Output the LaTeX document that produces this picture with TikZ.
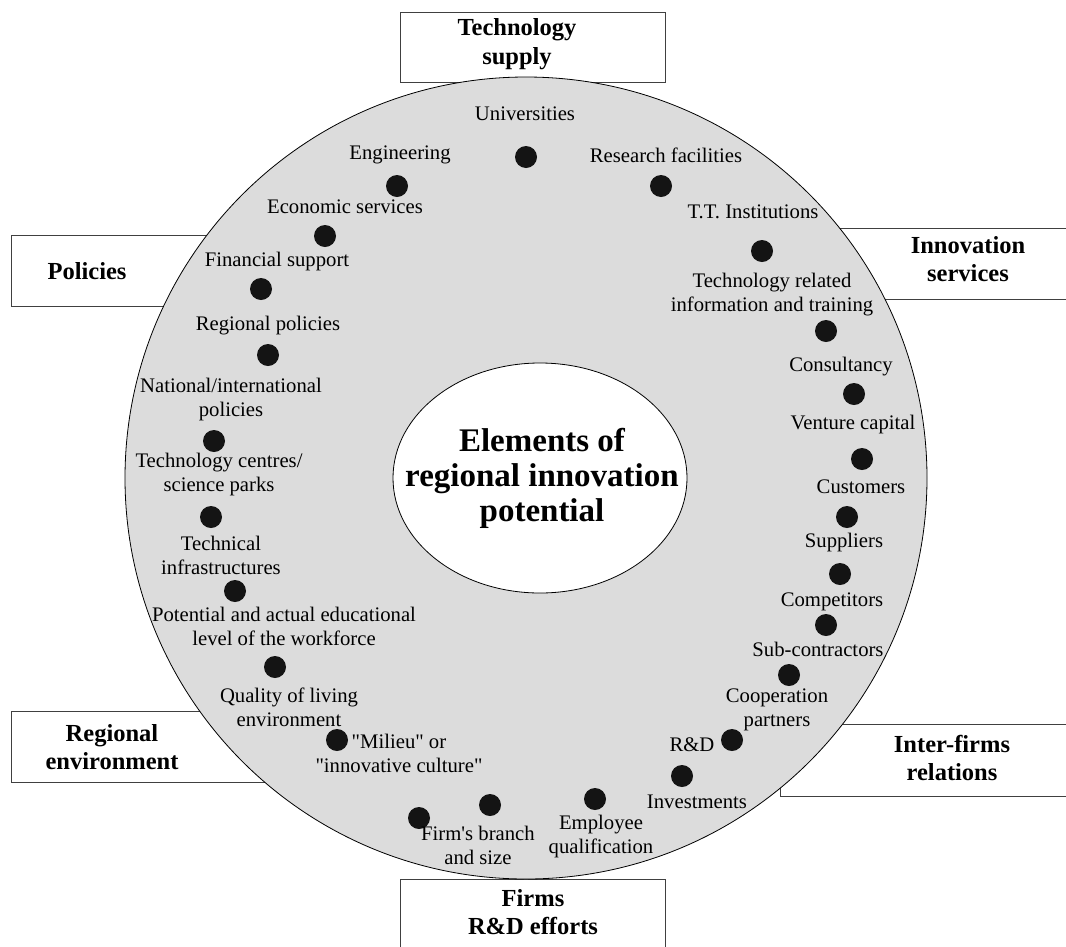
\documentclass[tikz,border=0pt]{standalone}
\usepackage{fontspec}
\setmainfont{Liberation Serif}[Ligatures=TeXOff]
\usetikzlibrary{shapes.geometric}
\definecolor{circc}{HTML}{DCDCDC}
\definecolor{dotc}{HTML}{141414}
\definecolor{boxc}{HTML}{404040}
\begin{document}
\begin{tikzpicture}[x=1pt,y=-1pt,
  lbl/.style={font=\fontsize{20.7}{24}\selectfont, align=center, inner sep=0pt},
  ttl/.style={font=\bfseries\fontsize{24.5}{28.5}\selectfont, align=center, inner sep=0pt},
  eldot/.style={circle, fill=dotc, minimum size=22pt, inner sep=0pt},
  sidebox/.style={draw=boxc, line width=0.9pt, fill=white}]
\useasboundingbox (0,0) rectangle (1066,946);
\clip (0,0) rectangle (1066,946);
% side boxes
\draw[sidebox] (400,12) rectangle (665,82);
\draw[sidebox] (11,235) rectangle (300,306);
\draw[sidebox] (780,228) rectangle (1080,299);
\draw[sidebox] (11,711) rectangle (300,782);
\draw[sidebox] (780,724) rectangle (1080,796);
\draw[sidebox] (400,879) rectangle (665,960);
\node[ttl] (tsup) at (517,44) {Technology\\supply};
\node[ttl] (pol) at (87,271) {Policies};
\node[ttl] (inns) at (968,259) {Innovation\\services};
\node[ttl] (renv) at (112,747) {Regional\\environment};
\node[ttl] (ifr) at (952,758) {Inter-firms\\relations};
\node[ttl] (frd) at (533,912) {Firms\\R\&D efforts};
% big circle
\node[circle, draw=black, line width=0.8pt, fill=circc, minimum size=802pt, inner sep=0pt] (ring) at (526,478) {};
% inner ellipse
\node[ellipse, draw=black, line width=0.8pt, fill=white, minimum width=294pt, minimum height=230pt, inner sep=0pt] (core) at (540,478) {};
\node[font=\bfseries\fontsize{33}{35}\selectfont, align=center, inner sep=0pt] (coretxt) at (542,478) {Elements of\\regional innovation\\potential};
% dots
\node[eldot] (d1) at (526,157) {};
\node[eldot] (d2) at (397,186) {};
\node[eldot] (d3) at (325,236) {};
\node[eldot] (d4) at (261,289) {};
\node[eldot] (d5) at (268,355) {};
\node[eldot] (d6) at (214,441) {};
\node[eldot] (d7) at (211,517) {};
\node[eldot] (d8) at (235,591) {};
\node[eldot] (d9) at (275,667) {};
\node[eldot] (d10) at (337,740) {};
\node[eldot] (d11) at (419,818) {};
\node[eldot] (d12) at (490,805) {};
\node[eldot] (d13) at (595,799) {};
\node[eldot] (d14) at (682,776) {};
\node[eldot] (d15) at (732,740) {};
\node[eldot] (d16) at (789,675) {};
\node[eldot] (d17) at (826,625) {};
\node[eldot] (d18) at (840,574) {};
\node[eldot] (d19) at (847,517) {};
\node[eldot] (d20) at (862,459) {};
\node[eldot] (d21) at (854,394) {};
\node[eldot] (d22) at (826,331) {};
\node[eldot] (d23) at (762,251) {};
\node[eldot] (d24) at (661,186) {};
% labels
\node[lbl] (l1) at (525,114) {Universities};
\node[lbl] (l2) at (400,155) {Engineering};
\node[lbl] (l3) at (345,207) {Economic services};
\node[lbl] (l4) at (277,262) {Financial support};
\node[lbl] (l5) at (268,326) {Regional policies};
\node[lbl] (l6) at (231,400) {National/international\\policies};
\node[lbl] (l7) at (219,475) {Technology centres/\\science parks};
\node[lbl] (l8) at (221,555) {Technical\\infrastructures};
\node[lbl] (l9) at (284,626) {Potential and actual educational\\level of the workforce};
\node[lbl] (l10) at (289,707) {Quality of living\\environment};
\node[lbl] (l11) at (399,753) {"Milieu" or\\"innovative culture"};
\node[lbl] (l12) at (478,845) {Firm's branch\\and size};
\node[lbl] (l13) at (601,837) {Employee\\qualification};
\node[lbl] (l14) at (697,802) {Investments};
\node[lbl] (l15) at (692,745) {R\&D};
\node[lbl] (l16) at (777,710) {Cooperation\\partners};
\node[lbl] (l17) at (818,649) {Sub-contractors};
\node[lbl] (l18) at (832,602) {Competitors};
\node[lbl] (l19) at (844,543) {Suppliers};
\node[lbl] (l20) at (861,487) {Customers};
\node[lbl] (l21) at (853,425) {Venture capital};
\node[lbl] (l22) at (841,367) {Consultancy};
\node[lbl] (l23) at (772,295) {Technology related\\information and training};
\node[lbl] (l24) at (753,212) {T.T. Institutions};
\node[lbl] (l25) at (666,155) {Research facilities};
\end{tikzpicture}
\end{document}
